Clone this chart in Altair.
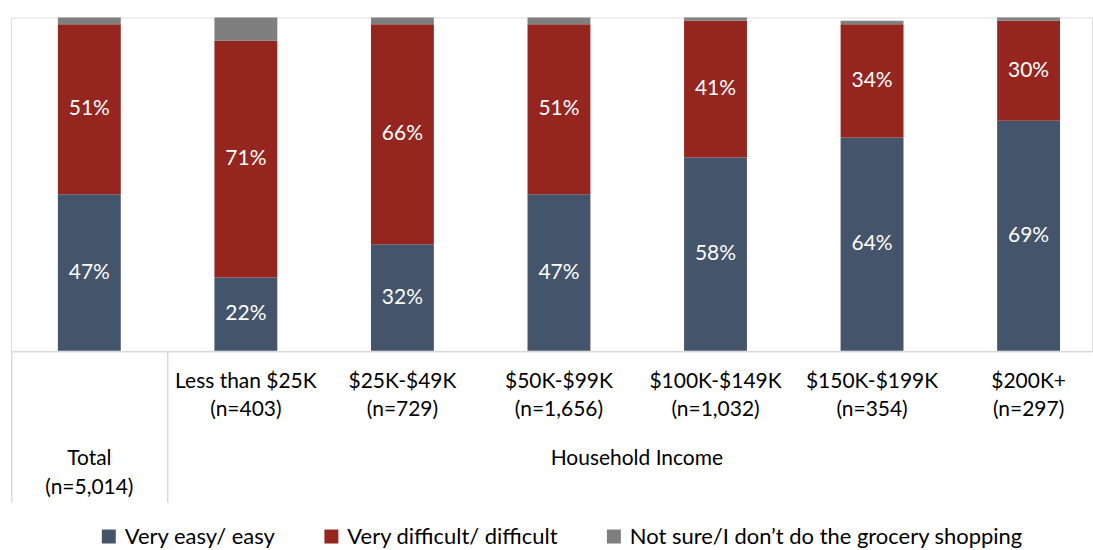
import altair as alt
import pandas as pd

categories = ["Total", "Less than $25K", "$25K-$49K", "$50K-$99K", "$100K-$149K", "$150K-$199K", "$200K+"]
sample_sizes = ["(n=5,014)", "(n=403)", "(n=729)", "(n=1,656)", "(n=1,032)", "(n=354)", "(n=297)"]
responses = ["Very easy/ easy", "Very difficult/ difficult", "Not sure/I don\u2019t do the grocery shopping"]
easy = [0.47, 0.22, 0.32, 0.47, 0.58, 0.64, 0.69]
difficult = [0.51, 0.71, 0.66, 0.51, 0.41, 0.34, 0.30]
not_sure = [0.02, 0.07, 0.02, 0.02, 0.01, 0.01, 0.01]
colors = ["#44546A", "#94261F", "#7F7F7F"]
group_label = "Household Income"

rows = []
for i, c in enumerate(categories):
    for j, (r, vals) in enumerate(zip(responses, [easy, difficult, not_sure])):
        rows.append({"cat": c, "n": sample_sizes[i], "response": r, "value": vals[i], "ord": j})
df = pd.DataFrame(rows)
cats_df = pd.DataFrame({"cat": categories, "n": sample_sizes})

W, H = 1083, 334
FONT = "Lato"
FS = 21

xenc = alt.X("cat:N", sort=categories, axis=None,
             scale=alt.Scale(paddingInner=0.5983, paddingOuter=0.2519, align=0.5947))

bars = alt.Chart(df).mark_bar().encode(
    x=xenc,
    y=alt.Y("value:Q", stack="zero", scale=alt.Scale(domain=[0, 1]), axis=None),
    color=alt.Color("response:N", sort=responses,
                    scale=alt.Scale(domain=responses, range=colors),
                    legend=alt.Legend(title=None, orient="none", direction="horizontal",
                                      legendX=87, legendY=509, symbolType="square",
                                      symbolSize=196, symbolStrokeWidth=0,
                                      labelFontSize=22, labelFont=FONT, labelColor="#000000",
                                      labelLimit=0,
                                      columnPadding=44, labelOffset=5, columns=3)),
    order=alt.Order("ord:Q", sort="ascending"),
)

labels = alt.Chart(df).transform_stack(
    stack="value", as_=["y0", "y1"], groupby=["cat"], sort=[alt.SortField("ord", order="ascending")]
).transform_calculate(
    mid="(datum.y0 + datum.y1) / 2"
).transform_filter(
    "datum.ord < 2"
).mark_text(color="white", fontSize=FS, font=FONT, baseline="middle").encode(
    x=xenc,
    y=alt.Y("mid:Q", scale=alt.Scale(domain=[0, 1]), axis=None),
    text=alt.Text("value:Q", format=".0%"),
)

tot = alt.Chart(cats_df).transform_filter(alt.datum.cat == "Total")
inc = alt.Chart(cats_df).transform_filter(alt.datum.cat != "Total")
tstyle = dict(fontSize=FS, font=FONT, color="#000000", baseline="middle")

tot1 = tot.mark_text(**tstyle).encode(x=xenc, y=alt.value(442), text="cat:N")
tot2 = tot.mark_text(**tstyle).encode(x=xenc, y=alt.value(471), text="n:N")
inc1 = inc.mark_text(**tstyle).encode(x=xenc, y=alt.value(365), text="cat:N")
inc2 = inc.mark_text(**tstyle).encode(x=xenc, y=alt.value(393), text="n:N")
grp = alt.Chart(pd.DataFrame({"t": [group_label]})).mark_text(**tstyle).encode(
    x=alt.value(627), y=alt.value(442), text="t:N")

line_color = "#D9D9D9"
hline = alt.Chart(pd.DataFrame({"a": [0]})).mark_rule(color=line_color, strokeWidth=1.5).encode(
    x=alt.value(0), x2=alt.value(W), y=alt.value(H + 1))
vline1 = alt.Chart(pd.DataFrame({"a": [0]})).mark_rule(color=line_color, strokeWidth=1.5).encode(
    x=alt.value(0.75), y=alt.value(H + 1), y2=alt.value(486))
vline2 = alt.Chart(pd.DataFrame({"a": [0]})).mark_rule(color=line_color, strokeWidth=1.5).encode(
    x=alt.value(157), y=alt.value(H + 1), y2=alt.value(486))

chart = alt.layer(bars, labels, hline, vline1, vline2, tot1, tot2, inc1, inc2, grp).properties(
    width=W, height=H,
    padding={"left": 10, "top": 17, "right": 0, "bottom": 0},
).configure_view(stroke=None).configure(font=FONT)

chart.save("out.html", embed_options={"renderer": "svg", "actions": False})
